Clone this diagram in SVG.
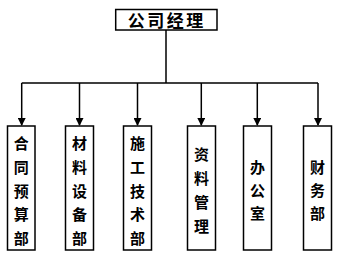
<svg xmlns="http://www.w3.org/2000/svg" width="338" height="258" viewBox="0 0 338 258">
<defs>
<marker id="ah" markerWidth="8" markerHeight="8" refX="7" refY="4" orient="auto" markerUnits="userSpaceOnUse">
<path d="M0,0 L8,4 L0,8 Z" fill="#000"/>
</marker>
<style>
.box{fill:#fff;stroke:#000;stroke-width:1.5}
.ln{fill:none;stroke:#000;stroke-width:1.5}
.t{font-family:"Noto Sans CJK SC","Noto Sans CJK TC",sans-serif;font-size:15px;font-weight:bold;text-anchor:middle;dominant-baseline:central;fill:#000}
</style>
</defs>
<rect width="338" height="258" fill="#fff"/>
<g id="connectors">
<path class="ln" d="M166,30 V83 M21.7,83 H318"/>
<path class="ln" d="M21.7,83 V125" marker-end="url(#ah)"/>
<path class="ln" d="M79.5,83 V125" marker-end="url(#ah)"/>
<path class="ln" d="M137.5,83 V125" marker-end="url(#ah)"/>
<path class="ln" d="M201.3,83 V125" marker-end="url(#ah)"/>
<path class="ln" d="M257.3,83 V125" marker-end="url(#ah)"/>
<path class="ln" d="M318,83 V125" marker-end="url(#ah)"/>
</g>
<g id="n0">
<rect class="box" x="115.7" y="9.5" width="101.3" height="20.5"/>
<text class="t" x="166.8" y="19.5" style="font-size:17px;letter-spacing:2.5px">公司经理</text>
</g>
<g id="n1">
<rect class="box" x="7.5" y="126" width="27.5" height="124"/>
<text class="t" x="21.3" y="142">合</text>
<text class="t" x="21.3" y="166">同</text>
<text class="t" x="21.3" y="190">预</text>
<text class="t" x="21.3" y="213">算</text>
<text class="t" x="21.3" y="237">部</text>
</g>
<g id="n2">
<rect class="box" x="65.5" y="126" width="28" height="124"/>
<text class="t" x="79.5" y="142">材</text>
<text class="t" x="79.5" y="166">料</text>
<text class="t" x="79.5" y="190">设</text>
<text class="t" x="79.5" y="213">备</text>
<text class="t" x="79.5" y="237">部</text>
</g>
<g id="n3">
<rect class="box" x="123.5" y="126" width="28" height="124"/>
<text class="t" x="137.5" y="142">施</text>
<text class="t" x="137.5" y="166">工</text>
<text class="t" x="137.5" y="190">技</text>
<text class="t" x="137.5" y="213">术</text>
<text class="t" x="137.5" y="237">部</text>
</g>
<g id="n4">
<rect class="box" x="187.5" y="126" width="28" height="124"/>
<text class="t" x="201.5" y="153">资</text>
<text class="t" x="201.5" y="177">料</text>
<text class="t" x="201.5" y="201">管</text>
<text class="t" x="201.5" y="225">理</text>
</g>
<g id="n5">
<rect class="box" x="243.5" y="126" width="28" height="124"/>
<text class="t" x="257.5" y="166">办</text>
<text class="t" x="257.5" y="189">公</text>
<text class="t" x="257.5" y="212">室</text>
</g>
<g id="n6">
<rect class="box" x="303.5" y="126" width="28" height="124"/>
<text class="t" x="317.5" y="166">财</text>
<text class="t" x="317.5" y="189">务</text>
<text class="t" x="317.5" y="212">部</text>
</g>
</svg>
